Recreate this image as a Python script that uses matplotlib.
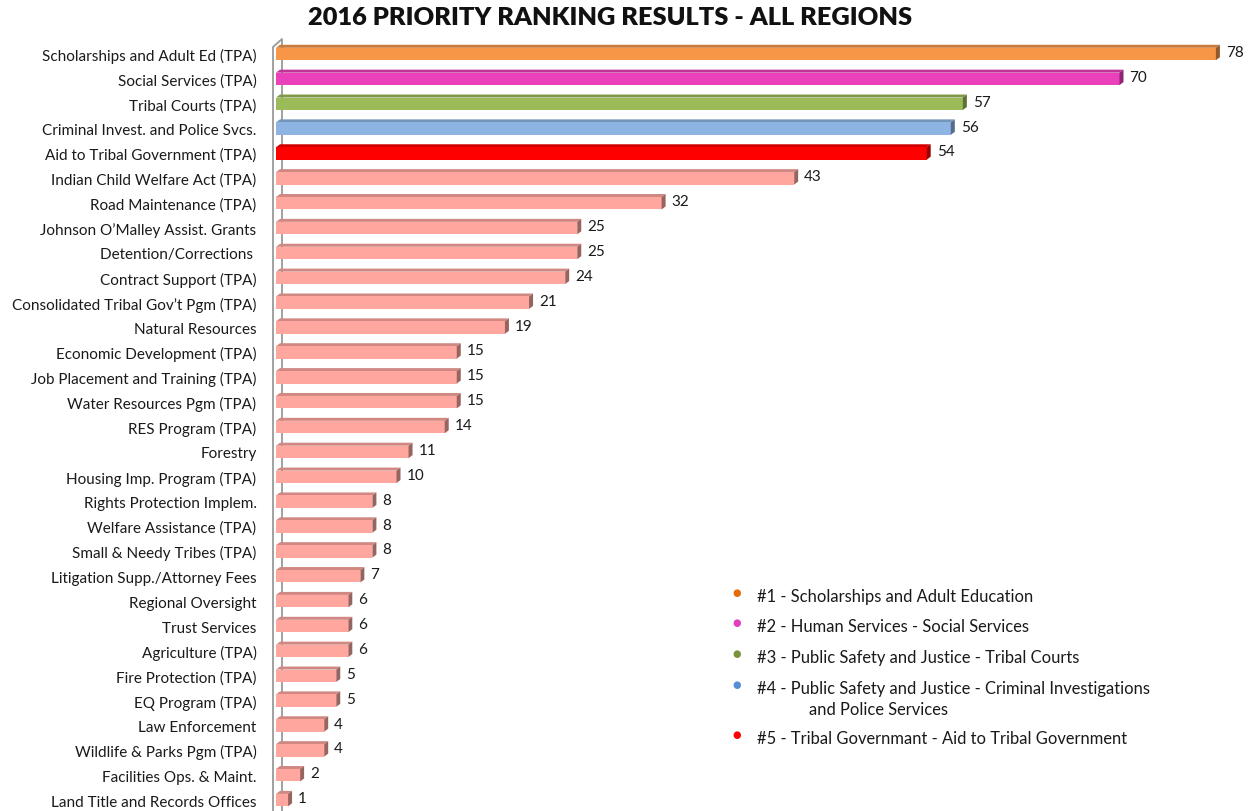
import matplotlib
matplotlib.use("Agg")
import matplotlib.pyplot as plt
from matplotlib.patches import Polygon
from matplotlib.lines import Line2D
import matplotlib.colors as mcolors

categories = [
    "Scholarships and Adult Ed (TPA)", "Social Services (TPA)", "Tribal Courts (TPA)",
    "Criminal Invest. and Police Svcs.", "Aid to Tribal Government (TPA)",
    "Indian Child Welfare Act (TPA)", "Road Maintenance (TPA)",
    "Johnson O\u2019Malley Assist. Grants", "Detention/Corrections ",
    "Contract Support (TPA)", "Consolidated Tribal Gov\u2019t Pgm (TPA)",
    "Natural Resources", "Economic Development (TPA)", "Job Placement and Training (TPA)",
    "Water Resources Pgm (TPA)", "RES Program (TPA)", "Forestry",
    "Housing Imp. Program (TPA)", "Rights Protection Implem.", "Welfare Assistance (TPA)",
    "Small & Needy Tribes (TPA)", "Litigation Supp./Attorney Fees", "Regional Oversight",
    "Trust Services", "Agriculture (TPA)", "Fire Protection (TPA)", "EQ Program (TPA)",
    "Law Enforcement", "Wildlife & Parks Pgm (TPA)", "Facilities Ops. & Maint.",
    "Land Title and Records Offices",
]
values = [78, 70, 57, 56, 54, 43, 32, 25, 25, 24, 21, 19, 15, 15, 15, 14, 11, 10,
          8, 8, 8, 7, 6, 6, 6, 5, 5, 4, 4, 2, 1]
top_colors = ["#F79646", "#EA40BA", "#9BBB59", "#8DB4E2", "#FF0000"]
other_color = "#FFA69E"

legend_labels = [
    "#1 - Scholarships and Adult Education",
    "#2 - Human Services - Social Services",
    "#3 - Public Safety and Justice - Tribal Courts",
    "#4 - Public Safety and Justice - Criminal Investigations",
    "#5 - Tribal Governmant - Aid to Tribal Government",
]
legend_extra = "and Police Services"
legend_colors = ["#E46C0A", "#E040C0", "#77933C", "#558ED5", "#FF0000"]

title = "2016 PRIORITY RANKING RESULTS - ALL REGIONS"

FONT = "Lato"
W, H = 1248, 812
fig = plt.figure(figsize=(W / 100, H / 100), dpi=100)
fig.patch.set_facecolor("white")

ax_left, ax_right, ax_top, ax_bottom = 276, 1246, 40, 812
ax = fig.add_axes([ax_left / W, 1 - ax_bottom / H, (ax_right - ax_left) / W, (ax_bottom - ax_top) / H])
px_per_unit = 12.05
xmax = (ax_right - ax_left) / px_per_unit
row_px = 24.87
first_center = 55
ylim_top = -(first_center - ax_top) / row_px
ylim_bot = (ax_bottom - first_center) / row_px
ax.set_xlim(0, xmax)
ax.set_ylim(ylim_bot, ylim_top)

def darker(c, f=0.7):
    r, g, b = mcolors.to_rgb(c)
    return (r * f, g * f, b * f)

bh = 0.5
dx = 4 / px_per_unit
dy = 3 / row_px
for i, (v, cat) in enumerate(zip(values, categories)):
    col = top_colors[i] if i < len(top_colors) else other_color
    ax.barh(i, v, height=bh, color=col, edgecolor="none", zorder=3)
    top = i - bh / 2
    ax.add_patch(Polygon([(0, top), (v, top), (v + dx, top - dy), (dx, top - dy)],
                         closed=True, facecolor=darker(col, 0.82), edgecolor="none", zorder=2))
    ax.add_patch(Polygon([(v, i + bh / 2), (v + dx, i + bh / 2 - dy), (v + dx, top - dy), (v, top)],
                         closed=True, facecolor=darker(col, 0.6), edgecolor="none", zorder=4))
    ax.text(v + dx + 6 / px_per_unit, i - 0.08, str(v), va="center", ha="left",
            fontsize=11, family=FONT, color="#1a1a1a")

ax.set_yticks(range(len(categories)))
ax.set_yticklabels(categories, fontsize=11, family=FONT, color="#1a1a1a")
ax.tick_params(axis="y", length=0, pad=14)
ax.set_xticks([])
for s in ax.spines.values():
    s.set_visible(False)

# 3D wall
front_x = -3 / px_per_unit
back_x = 6 / px_per_unit
wall_top = ylim_top + 8 / row_px
ax.add_line(Line2D([front_x, front_x, back_x, back_x], [ylim_bot, wall_top, ylim_top, ylim_bot],
                   color="#9a9a9a", lw=1.3, clip_on=False, zorder=1))

fig.text(610 / W, 1 - 18 / H, title, ha="center", va="center", fontsize=18.3,
         fontweight="heavy", family=FONT, color="#111111")

leg_y = [597, 627, 658, 689, 739]
for y, lab, c in zip(leg_y, legend_labels, legend_colors):
    fig.text(737 / W, 1 - (y - 4) / H, "\u25CF", ha="center", va="center",
             fontsize=7, color=c, family="DejaVu Sans")
    fig.text(757 / W, 1 - y / H, lab, ha="left", va="center",
             fontsize=11.9, family=FONT, color="#1a1a1a")
fig.text(809 / W, 1 - 710 / H, legend_extra, ha="left", va="center",
         fontsize=11.9, family=FONT, color="#1a1a1a")

fig.savefig("out.png", dpi=100, facecolor="white")
